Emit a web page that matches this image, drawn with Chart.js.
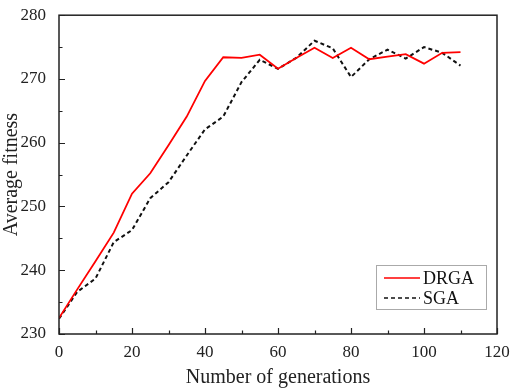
<!DOCTYPE html>
<html>
<head>
<meta charset="utf-8">
<script src="https://cdn.jsdelivr.net/npm/chart.js@4.4.1/dist/chart.umd.min.js"></script>
<style>
  html, body { margin: 0; padding: 0; background: #fff; }
  #wrap { width: 512px; height: 390px; }
</style>
</head>
<body>
<div id="wrap"><canvas id="chart" width="512" height="390"></canvas></div>
<script>
const generations = [0, 5, 10, 15, 20, 25, 30, 35, 40, 45, 50, 55, 60, 65, 70, 75, 80, 85, 90, 95, 100, 105, 110];
const drgaValues = [232.5, 237.0, 241.4, 245.9, 252.0, 255.2, 259.6, 264.1, 269.7, 273.4, 273.3, 273.8, 271.6, 273.3, 274.9, 273.3, 274.9, 273.1, 273.5, 273.9, 272.4, 274.1, 274.2];
const sgaValues = [232.4, 236.6, 238.7, 244.4, 246.3, 251.3, 253.8, 258.0, 262.1, 264.1, 269.5, 273.0, 271.6, 273.3, 276.0, 274.8, 270.3, 273.1, 274.6, 273.2, 275.0, 274.1, 272.1];
const xTicks = [0, 20, 40, 60, 80, 100, 120];
const yTicks = [230, 240, 250, 260, 270, 280];

const serif = '"Liberation Serif", "Times New Roman", serif';

function toPoints(values) {
  return generations.map((g, i) => ({ x: g, y: values[i] }));
}

// frame, inward ticks and the boxed legend
const framePlugin = {
  id: 'frame',
  afterDatasetsDraw(chart) {
    const { ctx, chartArea: a, scales } = chart;
    const x = scales.x, y = scales.y;
    ctx.save();
    ctx.strokeStyle = '#222';
    ctx.lineWidth = 1.5;
    ctx.strokeRect(a.left, a.top, a.right - a.left, a.bottom - a.top);

    ctx.lineWidth = 1.2;
    ctx.beginPath();
    for (let v = 0; v <= 120; v += 10) {
      const px = Math.round(x.getPixelForValue(v)) + 0.5;
      const len = v % 20 === 0 ? 6 : 3.5;
      ctx.moveTo(px, a.bottom);
      ctx.lineTo(px, a.bottom - len);
    }
    for (let v = 230; v <= 280; v += 5) {
      const py = Math.round(y.getPixelForValue(v)) + 0.5;
      const len = v % 10 === 0 ? 6 : 3.5;
      ctx.moveTo(a.left, py);
      ctx.lineTo(a.left + len, py);
    }
    ctx.stroke();

    // legend box in lower right
    const bx = 376, by = 265, bw = 110, bh = 44;
    ctx.fillStyle = '#fff';
    ctx.fillRect(bx, by, bw, bh);
    ctx.strokeStyle = '#aaa';
    ctx.lineWidth = 1;
    ctx.strokeRect(bx + 0.5, by + 0.5, bw, bh);
    ctx.font = '18px ' + serif;
    ctx.textBaseline = 'middle';
    chart.data.datasets.forEach((ds, i) => {
      const ly = by + 13 + i * 20;
      ctx.strokeStyle = ds.borderColor;
      ctx.lineWidth = 1.5;
      ctx.setLineDash(ds.borderDash || []);
      ctx.beginPath();
      ctx.moveTo(bx + 8, ly);
      ctx.lineTo(bx + 44, ly);
      ctx.stroke();
      ctx.setLineDash([]);
      ctx.fillStyle = '#111';
      ctx.fillText(ds.label, bx + 47, ly + 1);
    });
    ctx.restore();
  }
};

new Chart(document.getElementById('chart'), {
  type: 'line',
  data: {
    datasets: [
      {
        label: 'DRGA',
        data: toPoints(drgaValues),
        borderColor: '#ff0000',
        borderWidth: 1.8,
        pointRadius: 0,
        tension: 0,
        fill: false
      },
      {
        label: 'SGA',
        data: toPoints(sgaValues),
        borderColor: '#111',
        borderWidth: 2,
        borderDash: [4, 3],
        pointRadius: 0,
        tension: 0,
        fill: false
      }
    ]
  },
  options: {
    responsive: false,
    animation: false,
    devicePixelRatio: 1,
    layout: { padding: { top: 8, right: 15, left: 0, bottom: 0 } },
    scales: {
      x: {
        type: 'linear',
        min: 0,
        max: 120,
        afterBuildTicks: (s) => { s.ticks = xTicks.map(v => ({ value: v })); },
        afterFit: (s) => { s.height = 56; },
        grid: { display: false },
        border: { display: false },
        ticks: { color: '#222', padding: 0, maxRotation: 0, font: { family: serif, size: 17 } },
        title: {
          display: true,
          text: 'Number of generations',
          color: '#222',
          padding: { top: 4, bottom: 0 },
          font: { family: serif, size: 20 }
        }
      },
      y: {
        type: 'linear',
        min: 230,
        max: 280,
        afterBuildTicks: (s) => { s.ticks = yTicks.map(v => ({ value: v })); },
        afterFit: (s) => { s.width = 59; },
        grid: { display: false },
        border: { display: false },
        ticks: { color: '#222', padding: 5, font: { family: serif, size: 17 } },
        title: {
          display: true,
          text: 'Average fitness',
          color: '#222',
          padding: { top: 0, bottom: 0 },
          font: { family: serif, size: 20 }
        }
      }
    },
    plugins: {
      legend: { display: false },
      tooltip: { enabled: false }
    }
  },
  plugins: [framePlugin]
});
</script>
</body>
</html>
